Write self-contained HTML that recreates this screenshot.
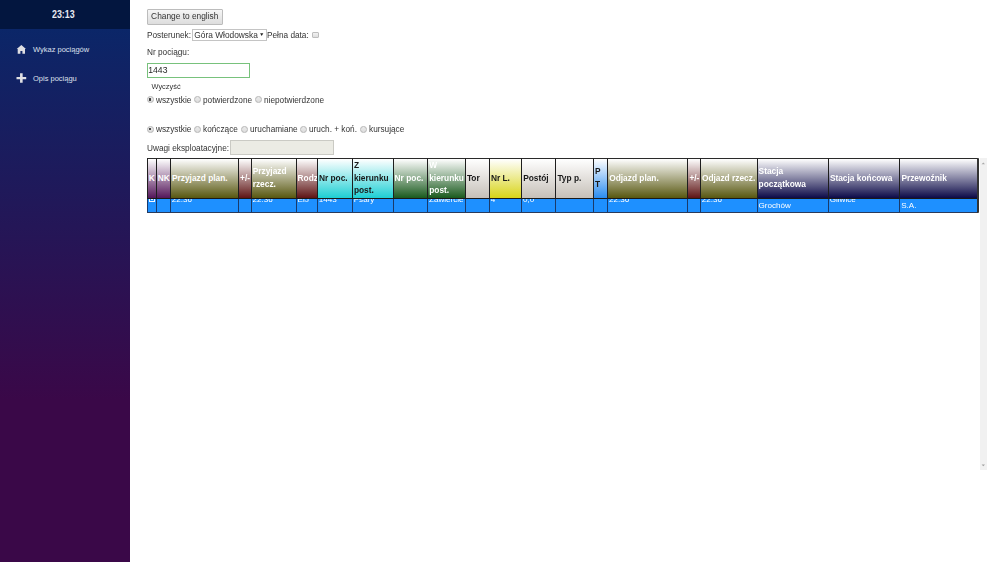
<!DOCTYPE html>
<html><head><meta charset="utf-8">
<style>
html,body{margin:0;padding:0;width:1000px;height:562px;overflow:hidden;background:#fff;font-family:"Liberation Sans",sans-serif;}
#side{position:absolute;left:0;top:0;width:130px;height:562px;background:linear-gradient(#0b2668 29px,#3a0848 400px,#3a0848 562px);}
#clock{position:absolute;left:0;top:0;width:130px;height:29px;background:#03163f;}
#clk{position:absolute;left:51.7px;top:8.6px;color:#e8eaf2;font-size:10.2px;font-weight:bold;line-height:12px;white-space:nowrap;transform:scaleX(0.87);transform-origin:0 0}
.nav{position:absolute;left:33px;color:#dfe0ee;font-size:7.5px;white-space:nowrap}
.abs{position:absolute;white-space:nowrap;color:#333;font-size:8.25px;margin-top:0.7px}
#btn{position:absolute;left:147px;top:9.1px;width:73.5px;height:13.6px;border:1px solid #bcbcbc;border-radius:1px;background:linear-gradient(#f6f6f6,#dddddd);color:#333;font-size:8.35px;line-height:13.9px;text-align:center;white-space:nowrap}
#sel{position:absolute;left:191.5px;top:29.2px;width:73.5px;height:9.6px;border:0.9px solid #c4c4c4;background:#fff;color:#333;font-size:8.35px;line-height:10px;white-space:nowrap}
#inp{position:absolute;left:147px;top:62.5px;width:101px;height:13.3px;border:1.1px solid #78c27c;background:#fff;color:#262626;font-size:8.6px;line-height:13.8px;padding-left:0.3px;box-sizing:content-box}
#uw{position:absolute;left:230px;top:140.2px;width:102px;height:13px;border:1px solid #cacac4;background:#ebebe4}
.radio{position:absolute;width:4.8px;height:4.8px;border-radius:50%;border:0.7px solid #b4b4b4;background:linear-gradient(#ececec,#dcdcdc);margin-top:-0.3px;margin-left:-0.3px}
.radio.on::after{content:"";position:absolute;left:1.2px;top:1.2px;width:2.4px;height:2.4px;border-radius:50%;background:#3a3a3a;box-shadow:0 0 0.6px #555}
#tbl{position:absolute;left:147px;top:158px;width:830.5px;height:54px;}
.th{position:absolute;top:158px;height:40.8px;padding-bottom:1px;border-left:1.2px solid #1e1e1e;border-top:1.2px solid #2a2a2a;border-bottom:1.2px solid #1a1a1a;box-sizing:border-box;font-weight:bold;font-size:8.35px;line-height:12.4px;display:flex;align-items:center;padding-left:1px;z-index:2;overflow:hidden;white-space:nowrap}
.td{position:absolute;top:186px;height:26.5px;padding-top:2px;border-left:1px solid #1a3a6a;border-bottom:1.2px solid #2a3a5a;box-sizing:border-box;background:#1e90ff;color:#fff;font-size:8.1px;line-height:12.2px;padding-left:0.8px;overflow:hidden;white-space:nowrap;z-index:1;display:flex;align-items:center}
#rb{position:absolute;left:977.3px;top:158px;width:1.5px;height:54.5px;background:#333;z-index:3;border-radius:0 1px 1px 0}
#sb{position:absolute;left:979.6px;top:157.8px;width:7.8px;height:312.5px;background:#f1f1f1}
</style></head><body>
<div id="wrap" style="position:absolute;left:0;top:0;width:1000px;height:562px;filter:blur(0.3px)">
<div id="side">
  <div id="clock"><span id="clk">23:13</span></div>
  <svg style="position:absolute;left:16px;top:44px" width="11" height="11" viewBox="0 0 11 11"><path d="M5.35 1 L0.7 4.9 L1.7 4.9 L1.7 9.7 L4.4 9.7 L4.4 7.1 L6.4 7.1 L6.4 9.7 L9 9.7 L9 4.9 L10 4.9 Z" fill="#dedee2"/></svg>
  <div class="nav" style="top:44px;line-height:12px">Wykaz pociągów</div>
  <svg style="position:absolute;left:16px;top:72px" width="11" height="11" viewBox="0 0 11 11"><path d="M4.05 1.2 H6.65 V5.05 H10.2 V7.25 H6.65 V10.7 H4.05 V7.25 H0.5 V5.05 H4.05 Z" fill="#e0e0e4"/></svg>
  <div class="nav" style="top:72.5px;line-height:12px">Opis pociągu</div>
</div>
<div id="btn">Change to english</div>
<div class="abs" style="left:147px;top:29px;line-height:12px">Posterunek:</div>
<div id="sel"><span style="position:absolute;left:1.8px;top:-0.2px">Góra Włodowska</span><svg style="position:absolute;left:67.6px;top:3px" width="4" height="4"><path d="M0.1 0.3 H3.3 L1.7 2.9Z" fill="#222"/></svg></div>
<div class="abs" style="left:267px;top:29px;line-height:12px">Pełna data:</div>
<div style="position:absolute;left:312px;top:31.8px;width:4.7px;height:4.7px;border:0.8px solid #bdbdbd;border-radius:1px;background:linear-gradient(#f2f2f2,#dedede)"></div>
<div class="abs" style="left:147px;top:46px;line-height:12px">Nr pociągu:</div>
<div id="inp">1443</div>
<div class="abs" style="left:151.5px;top:80px;line-height:12px;font-size:7.4px">Wyczyść</div>
<div class="radio on" style="left:147px;top:96.5px"></div>
<div class="abs" style="left:156px;top:94px;line-height:12px">wszystkie</div>
<div class="radio" style="left:194px;top:96.5px"></div>
<div class="abs" style="left:203px;top:94px;line-height:12px">potwierdzone</div>
<div class="radio" style="left:255px;top:96.5px"></div>
<div class="abs" style="left:264px;top:94px;line-height:12px">niepotwierdzone</div>
<div class="radio on" style="left:147px;top:126px"></div>
<div class="abs" style="left:156px;top:123px;line-height:12px">wszystkie</div>
<div class="radio" style="left:194px;top:126px"></div>
<div class="abs" style="left:203px;top:123px;line-height:12px">kończące</div>
<div class="radio" style="left:241px;top:126px"></div>
<div class="abs" style="left:250px;top:123px;line-height:12px">uruchamiane</div>
<div class="radio" style="left:300px;top:126px"></div>
<div class="abs" style="left:309px;top:123px;line-height:12px">uruch. + koń.</div>
<div class="radio" style="left:360px;top:126px"></div>
<div class="abs" style="left:369px;top:123px;line-height:12px">kursujące</div>
<div class="abs" style="left:147px;top:142px;line-height:12px">Uwagi eksploatacyjne:</div>
<div id="uw"></div>
<div class="th" style="left:146.7px;width:9.0px;background:linear-gradient(#fff,#54165a);color:#fff"><span>K</span></div>
<div class="th" style="left:155.7px;width:14.300000000000011px;background:linear-gradient(#fff,#54165a);color:#fff"><span>NK</span></div>
<div class="th" style="left:170.0px;width:68.1px;background:linear-gradient(#fff,#585710);color:#fff"><span>Przyjazd plan.</span></div>
<div class="th" style="left:238.1px;width:12.599999999999994px;background:linear-gradient(#fff,#5e1414);color:#fff"><span>+/-</span></div>
<div class="th" style="left:250.7px;width:44.900000000000034px;background:linear-gradient(#fff,#585710);color:#fff"><span>Przyjazd<br>rzecz.</span></div>
<div class="th" style="left:295.6px;width:21.299999999999955px;background:linear-gradient(#fff,#5e1414);color:#fff"><span>Rodz.</span></div>
<div class="th" style="left:316.9px;width:35.0px;background:linear-gradient(#fff,#1ecfd4);color:#1a1a1a"><span>Nr poc.</span></div>
<div class="th" style="left:351.9px;width:40.700000000000045px;background:linear-gradient(#fff,#1ecfd4);color:#1a1a1a"><span>Z<br>kierunku<br>post.</span></div>
<div class="th" style="left:392.6px;width:34.599999999999966px;background:linear-gradient(#fff,#1a5a1e);color:#fff"><span>Nr poc.</span></div>
<div class="th" style="left:427.2px;width:37.69999999999999px;background:linear-gradient(#fff,#1a5a1e);color:#fff"><span>W<br>kierunku<br>post.</span></div>
<div class="th" style="left:464.9px;width:24.0px;background:linear-gradient(#fff,#c6c0b8);color:#1a1a1a"><span>Tor</span></div>
<div class="th" style="left:488.9px;width:32.30000000000007px;background:linear-gradient(#fff,#d8d418);color:#1a1a1a"><span>Nr L.</span></div>
<div class="th" style="left:521.2px;width:34.19999999999993px;background:linear-gradient(#fff,#c6c0b8);color:#1a1a1a"><span>Postój</span></div>
<div class="th" style="left:555.4px;width:37.60000000000002px;background:linear-gradient(#fff,#c6c0b8);color:#1a1a1a"><span>Typ p.</span></div>
<div class="th" style="left:593.0px;width:14.200000000000045px;background:linear-gradient(#fff,#2a8cf0);color:#1a1a1a"><span>P<br>T</span></div>
<div class="th" style="left:607.2px;width:80.19999999999993px;background:linear-gradient(#fff,#585710);color:#fff"><span>Odjazd plan.</span></div>
<div class="th" style="left:687.4px;width:12.5px;background:linear-gradient(#fff,#5e1414);color:#fff"><span>+/-</span></div>
<div class="th" style="left:699.9px;width:56.700000000000045px;background:linear-gradient(#fff,#585710);color:#fff"><span>Odjazd rzecz.</span></div>
<div class="th" style="left:756.6px;width:71.29999999999995px;background:linear-gradient(#fff,#0c0a48);color:#fff"><span>Stacja<br>początkowa</span></div>
<div class="th" style="left:827.9px;width:71.5px;background:linear-gradient(#fff,#0c0a48);color:#fff"><span>Stacja końcowa</span></div>
<div class="th" style="left:899.4px;width:77.80000000000007px;background:linear-gradient(#fff,#0c0a48);color:#fff"><span>Przewoźnik</span></div>
<div class="td" style="left:146.7px;width:9.0px"><span></span></div>
<div class="td" style="left:155.7px;width:14.300000000000011px"><span></span></div>
<div class="td" style="left:170.0px;width:68.1px"><span>22:36</span></div>
<div class="td" style="left:238.1px;width:12.599999999999994px"><span></span></div>
<div class="td" style="left:250.7px;width:44.900000000000034px"><span>22:36</span></div>
<div class="td" style="left:295.6px;width:21.299999999999955px"><span>EIJ</span></div>
<div class="td" style="left:316.9px;width:35.0px"><span>1443</span></div>
<div class="td" style="left:351.9px;width:40.700000000000045px"><span>Psary</span></div>
<div class="td" style="left:392.6px;width:34.599999999999966px"><span></span></div>
<div class="td" style="left:427.2px;width:37.69999999999999px"><span>Zawiercie</span></div>
<div class="td" style="left:464.9px;width:24.0px"><span></span></div>
<div class="td" style="left:488.9px;width:32.30000000000007px"><span>4</span></div>
<div class="td" style="left:521.2px;width:34.19999999999993px"><span>0,0</span></div>
<div class="td" style="left:555.4px;width:37.60000000000002px"><span></span></div>
<div class="td" style="left:593.0px;width:14.200000000000045px"><span></span></div>
<div class="td" style="left:607.2px;width:80.19999999999993px"><span>22:36</span></div>
<div class="td" style="left:687.4px;width:12.5px"><span></span></div>
<div class="td" style="left:699.9px;width:56.700000000000045px"><span>22:36</span></div>
<div class="td" style="left:756.6px;width:71.29999999999995px"><span>Warszawa<br>Grochów</span></div>
<div class="td" style="left:827.9px;width:71.5px"><span>Gliwice</span></div>
<div class="td" style="left:899.4px;width:77.80000000000007px"><span>Koleje Śląskie<br>S.A.</span></div>
<div style="position:absolute;left:149.3px;top:195.5px;width:3.8px;height:4.6px;border:1.1px solid #f4f8ff;z-index:1"><div style="position:absolute;left:1.2px;top:1px;width:1.4px;height:2.6px;background:#e8f0ff"></div></div>
<div id="rb"></div>
<div id="sb"><svg style="position:absolute;left:1.5px;top:3.8px" width="5" height="3"><path d="M0.6 2.2 L2.3 0.4 L4 2.2Z" fill="#a8a8a8"/></svg><svg style="position:absolute;left:1.5px;top:306px" width="5" height="3"><path d="M0.6 0.4 L2.3 2.2 L4 0.4Z" fill="#a0a0a0"/></svg></div>
</div>
</body></html>
